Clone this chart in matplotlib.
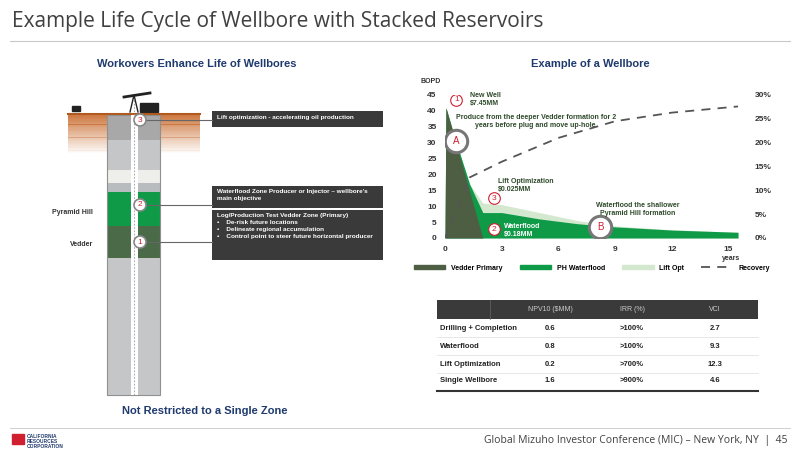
import matplotlib
matplotlib.use("Agg")
import matplotlib.pyplot as plt
from matplotlib.patches import Rectangle, Circle, Patch
from matplotlib.lines import Line2D
import numpy as np

plt.rcParams['font.family'] = ['Liberation Sans', 'DejaVu Sans']

# ---- data ----
t_vedder = [0, 0.05, 2.0, 15.5]
vedder = [0, 41, 0, 0]
t_ph = [0, 0.05, 0.6, 1.3, 2.0, 3, 5, 7, 9, 12, 15.5]
ph_top = [0, 41, 30, 17, 8, 8, 6, 4.5, 3.5, 2.5, 1.8]
t_lift = [0, 0.05, 0.6, 1.3, 2.0, 3, 5, 7, 9, 12, 15.5]
lift_top = [0, 41, 30, 17, 11, 10.5, 8, 5.5, 3.8, 2.6, 1.8]
t_rec = [0, 1.3, 3, 6, 9, 12, 15.5]
recovery = [0, 12.7, 16.0, 21.0, 24.5, 26.3, 27.6]
xticks = [0, 3, 6, 9, 12, 15]
yticks_left = [0, 5, 10, 15, 20, 25, 30, 35, 40, 45]
yticks_right = [0, 5, 10, 15, 20, 25, 30]
legend_labels = ['Vedder Primary', 'PH Waterflood', 'Lift Opt', 'Recovery']
table_cols = ['NPV10 ($MM)', 'IRR (%)', 'VCI']
table_rows = ['Drilling + Completion', 'Waterflood', 'Lift Optimization', 'Single Wellbore']
table_vals = [['0.6', '>100%', '2.7'], ['0.8', '>100%', '9.3'],
              ['0.2', '>700%', '12.3'], ['1.6', '>900%', '4.6']]

C_VED, C_PH, C_LIFT = '#4d5e43', '#0f9a48', '#d4e8cf'
NAVY = '#1f3a6e'

fig = plt.figure(figsize=(8, 4.5), dpi=100)
bg = fig.add_axes([0, 0, 1, 1])
bg.set_xlim(0, 800); bg.set_ylim(450, 0); bg.axis('off')

# title & frame lines
bg.text(12, 22, 'Example Life Cycle of Wellbore with Stacked Reservoirs', fontsize=15,
        color='#404040', va='center', family=['Open Sans', 'DejaVu Sans'])
bg.plot([10, 790], [41, 41], color='#c8c8c8', lw=0.8)
bg.plot([10, 790], [428, 428], color='#c8c8c8', lw=0.6)
bg.text(788, 441, 'Global Mizuho Investor Conference (MIC) – New York, NY  |  45', fontsize=7.5,
        color='#404040', ha='right', va='center', family=['Open Sans', 'DejaVu Sans'])
bg.add_patch(Rectangle((12, 434), 12, 10, color='#d02030'))
bg.text(27, 434, 'CALIFORNIA\nRESOURCES\nCORPORATION', fontsize=3.5, color=NAVY,
        fontweight='bold', va='top', linespacing=1.0)

bg.text(197, 64, 'Workovers Enhance Life of Wellbores', fontsize=8, fontweight='bold',
        color=NAVY, ha='center', va='center')
bg.text(590, 64, 'Example of a Wellbore', fontsize=8, fontweight='bold',
        color=NAVY, ha='center', va='center')
bg.text(122, 411, 'Not Restricted to a Single Zone', fontsize=8, fontweight='bold',
        color=NAVY, ha='left', va='center')

# ground gradient
for i in range(30):
    a = 1 - i / 30
    bg.add_patch(Rectangle((68, 114 + i * 1.3), 132, 1.4, color='#c8692a', alpha=a * 0.9, lw=0))
bg.plot([68, 200], [114, 114], color='#b05a20', lw=1.5)
# column
zones = [(115, 140, '#a8a8a8'), (140, 170, '#c4c6c8'), (170, 183, '#eeeeea'),
         (183, 192, '#b8bcbe'), (192, 226, C_PH), (226, 258, '#4a6a48'), (258, 395, '#c4c6c8')]
for y0, y1, c in zones:
    bg.add_patch(Rectangle((107, y0), 53, y1 - y0, color=c, lw=0))
bg.add_patch(Rectangle((107, 115), 53, 280, fill=False, ec='#909090', lw=0.8))
bg.add_patch(Rectangle((131, 100), 7, 295, color='white', lw=0))
bg.plot([133.5, 133.5], [100, 395], color='#999999', lw=0.6, ls=(0, (2, 2)))
# pump jack (simple)
bg.plot([130, 134, 138], [112, 95, 112], color='#222', lw=1)
bg.plot([124, 150], [97, 93], color='#222', lw=2)
bg.add_patch(Rectangle((140, 103), 18, 9, color='#222'))
bg.add_patch(Rectangle((72, 106), 8, 5, color='#222'))
bg.text(52, 213, 'Pyramid Hill', fontsize=5, fontweight='bold', color='#333', va='center')
bg.text(70, 245, 'Vedder', fontsize=5, fontweight='bold', color='#333', va='center')

def circ(ax, x, y, s, r=6, fs=6, ec='#888888'):
    ax.add_patch(Circle((x, y), r, fc='white', ec=ec, lw=1.2, zorder=5))
    ax.text(x, y, s, color='#d02030', fontsize=fs, ha='center', va='center', zorder=6)

boxes = [(111, 127, 'Lift optimization - accelerating oil production', 120),
         (186, 208, "Waterflood Zone Producer or Injector – wellbore's\nmain objective", 205),
         (210, 260, 'Log/Production Test Vedder Zone (Primary)\n•    De-risk future locations\n•    Delineate regional accumulation\n•    Control point to steer future horizontal producer', 242)]
for (y0, y1, txt, cy), n in zip(boxes, ['3', '2', '1']):
    bg.add_patch(Rectangle((212, y0), 171, y1 - y0, color='#3a3a3a', lw=0))
    bg.text(217, y0 + 3.5, txt, color='white', fontsize=4.6, fontweight='bold', va='top', linespacing=1.45)
    bg.plot([146, 212], [cy, cy], color='#666', lw=0.8)
    circ(bg, 140, cy, n)

# ---- chart ----
ax = fig.add_axes([445 / 800, 1 - 238 / 450, 293 / 800, 143 / 450])
ax.set_zorder(2)
ax.fill_between(t_lift, lift_top, color=C_LIFT, lw=0)
ax.fill_between(t_ph, ph_top, color=C_PH, lw=0)
ax.fill_between(t_vedder, vedder, color=C_VED, lw=0)
ax.set_xlim(0, 15.5); ax.set_ylim(0, 45)
ax.set_xticks(xticks); ax.set_yticks(yticks_left)
for s in ax.spines.values(): s.set_visible(False)
ax.tick_params(length=0, labelsize=6, colors='#333', pad=6)
for l in ax.get_xticklabels() + ax.get_yticklabels(): l.set_fontweight('bold')
ax.text(-1.3, 48, 'BOPD', fontsize=5, fontweight='bold', ha='left', va='bottom', color='#333')
ax.text(15.6, -5.3, 'years', fontsize=5, fontweight='bold', ha='right', va='top', color='#333')
ax2 = ax.twinx()
ax2.plot(t_rec, recovery, color='#555555', lw=1.3, ls=(0, (5, 4)))
ax2.set_ylim(0, 30); ax2.set_yticks(yticks_right)
ax2.set_yticklabels([f'{v}%' for v in yticks_right])
for s in ax2.spines.values(): s.set_visible(False)
ax2.tick_params(length=0, labelsize=6, colors='#333', pad=12)
for l in ax2.get_yticklabels(): l.set_fontweight('bold')

def dcirc(x, y, s, big=False):
    ax2.scatter([x], [y * 30 / 45], s=(260 if big else 70), facecolor='white',
                edgecolor=('#777' if big else '#d02030'), lw=(2.2 if big else 0.8), zorder=7)
    ax2.text(x, y * 30 / 45, s, color='#d02030', fontsize=(7 if big else 6), ha='center',
             va='center', zorder=8)

def dtext(x, y, s, color='#2e4a2a', **kw):
    ax2.text(x, y * 30 / 45, s, fontsize=5, fontweight='bold', color=color, zorder=8, **kw)

dcirc(0.6, 43.5, '1'); dtext(1.3, 43.5, 'New Well\n$7.45MM', va='center')
dtext(4.8, 36.8, 'Produce from the deeper Vedder formation for 2\nyears before plug and move up-hole',
      ha='center', va='center')
dcirc(0.6, 30.5, 'A', big=True)
dcirc(2.6, 12.5, '3'); dtext(2.8, 16.5, 'Lift Optimization\n$0.025MM', va='center')
dcirc(2.6, 2.8, '2'); dtext(3.1, 2.5, 'Waterflood\n$0.18MM', va='center', color='white')
dcirc(8.2, 3.5, 'B', big=True)
dtext(10.2, 9.0, 'Waterflood the shallower\nPyramid Hill formation', ha='center', va='center')

handles = [Patch(color=C_VED), Patch(color=C_PH), Patch(color=C_LIFT),
           Line2D([], [], color='#555', lw=1.3, ls=(0, (5, 4)))]
fig.legend(handles, legend_labels, loc='center', bbox_to_anchor=(592 / 800, 1 - 268 / 450),
           ncol=4, frameon=False, handlelength=4.5, handleheight=0.5,
           columnspacing=2.5, prop={'weight': 'bold', 'size': 5})

# ---- table ----
bg.add_patch(Rectangle((437, 300), 321, 19, color='#3a3a3a', lw=0))
colx = [550, 632, 715]
for x, c in zip(colx, table_cols):
    bg.text(x, 309.5, c, color='#cccccc', fontsize=5, ha='center', va='center')
bg.plot([548 - 58, 548 - 58], [300, 319], color='#666', lw=0.5)
rowy = [328, 346, 364, 381]
for y, r, vals in zip(rowy, table_rows, table_vals):
    bg.text(440, y, r, fontsize=5.5, fontweight='bold', color='#222', va='center')
    for x, v in zip(colx, vals):
        bg.text(x, y, v, fontsize=5.5, fontweight='bold', color='#222', ha='center', va='center')
    bg.plot([437, 758], [y + 9, y + 9], color='#dddddd', lw=0.5)
bg.plot([437, 758], [391, 391], color='#333', lw=1.5)

fig.savefig('out.png', dpi=100)
